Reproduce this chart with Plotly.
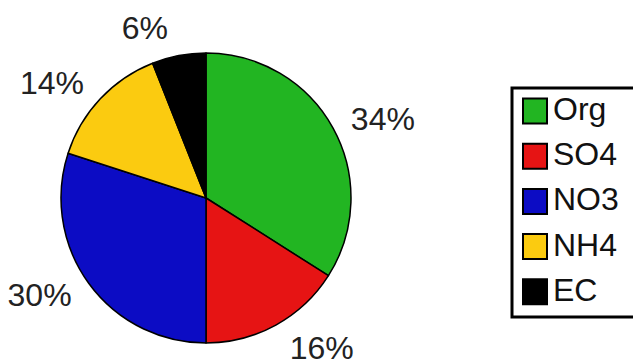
import plotly.graph_objects as go

# Composition shares (%)
labels = ["Org", "SO4", "NO3", "NH4", "EC"]
values = [34, 16, 30, 14, 6]
colors = ["#22b522", "#e61414", "#0c0cc4", "#fbcb10", "#000000"]

W, H = 633, 364
FONT = "Liberation Sans, Arial, sans-serif"
CX, CY, R = 206, 198, 145     # pie centre and radius, px
R_LABEL = 155                 # radius the outside labels are hung from, px


def px_x(x):
    return x / W


def px_y(y):
    return 1 - y / H


def domain(r):
    return dict(x=[px_x(CX - r), px_x(CX + r)], y=[px_y(CY + r), px_y(CY - r)])


fig = go.Figure()
# Filled slices
fig.add_trace(go.Pie(
    labels=labels,
    values=values,
    sort=False,
    direction="clockwise",
    rotation=0,
    marker=dict(colors=colors, line=dict(color="#000000", width=1.5)),
    textinfo="none",
    showlegend=False,
    automargin=False,
    hoverinfo="label+percent",
    domain=domain(R),
))
# Percentage labels, set a little further out than the slice rim
fig.add_trace(go.Pie(
    labels=labels,
    values=values,
    sort=False,
    direction="clockwise",
    rotation=0,
    marker=dict(colors=["rgba(0,0,0,0)"] * len(values), line=dict(width=0)),
    texttemplate="%{value}%",
    textposition="outside",
    textfont=dict(family=FONT, size=32, color="#222222"),
    showlegend=False,
    automargin=False,
    hoverinfo="skip",
    domain=domain(R_LABEL),
))

# Boxed legend with large square swatches
shapes = [dict(type="rect", xref="paper", yref="paper",
               x0=px_x(512), x1=px_x(640), y0=px_y(317), y1=px_y(88),
               line=dict(color="#000000", width=3), fillcolor="rgba(0,0,0,0)")]
annotations = []
top, step = 111, 45.2
for i, (lab, col) in enumerate(zip(labels, colors)):
    cy = top + i * step
    shapes.append(dict(type="rect", xref="paper", yref="paper",
                       x0=px_x(523), x1=px_x(547), y0=px_y(cy + 12.5), y1=px_y(cy - 12.5),
                       line=dict(color="#000000", width=2), fillcolor=col))
    annotations.append(dict(xref="paper", yref="paper", x=px_x(551), y=px_y(cy - 2),
                            text=lab, showarrow=False, xanchor="left", yanchor="middle",
                            font=dict(family=FONT, size=32, color="#111111")))

fig.update_layout(
    width=W, height=H,
    margin=dict(l=0, r=0, t=0, b=0, autoexpand=False),
    paper_bgcolor="#ffffff",
    plot_bgcolor="#ffffff",
    shapes=shapes,
    annotations=annotations,
)

fig.write_html(
    "out.html",
    post_script="document.body.style.overflow='hidden'; window.scrollTo(0, 0);",
)
